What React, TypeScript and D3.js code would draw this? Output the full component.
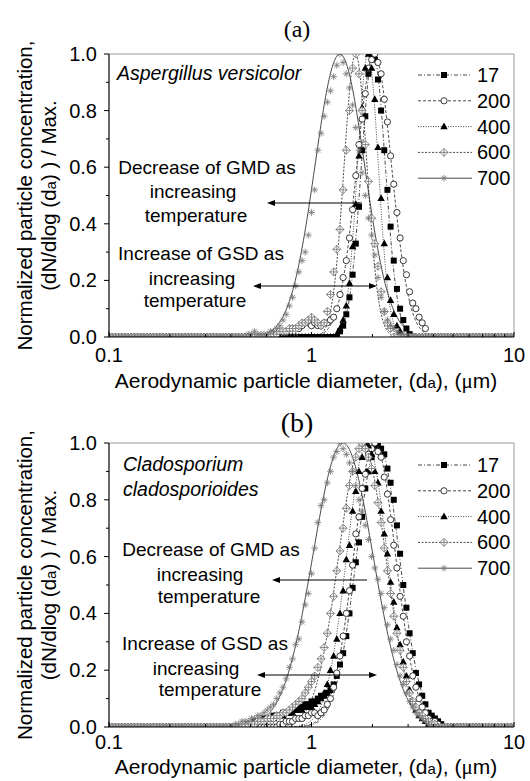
import React from "react";
import * as d3 from "d3";

// Channel mid-point mantissas (64 per decade), 1..10 µm
const MANTISSA = [1.0, 1.0366, 1.0746, 1.114, 1.1548, 1.1971, 1.2409, 1.2864, 1.3335, 1.3824, 1.433, 1.4855, 1.5399, 1.5963, 1.6548, 1.7154, 1.7783, 1.8434, 1.911, 1.981, 2.0535, 2.1288, 2.2067, 2.2876, 2.3714, 2.4582, 2.5483, 2.6416, 2.7384, 2.8387, 2.9427, 3.0505, 3.1623, 3.2781, 3.3982, 3.5227, 3.6517, 3.7855, 3.9242, 4.0679, 4.217, 4.3714, 4.5316, 4.6976, 4.8697, 5.0481, 5.233, 5.4247, 5.6234, 5.8294, 6.043, 6.2644, 6.4938, 6.7317, 6.9783, 7.2339, 7.4989, 7.7737, 8.0584, 8.3536, 8.6596, 8.9769, 9.3057, 9.6466];
const BINS = [...MANTISSA.map((m) => m / 10), ...MANTISSA, 10]; // index i <-> channel k = i - 64

const SERIES_NAMES = ["17", "200", "400", "600", "700"];
const Y_TICKS = [0, 0.2, 0.4, 0.6, 0.8, 1.0];
const X_TICKS = [0.1, 1, 10];

// ---- Panel (a): Aspergillus versicolor ----
const A_START = [9, -4, 8, -12, -20];
const A17 = [0.02, 0.04, 0.08, 0.14, 0.22, 0.33, 0.46, 0.66, 0.78, 0.93, 1.0, 0.98, 0.91, 0.8, 0.66, 0.52, 0.39, 0.27, 0.17, 0.1, 0.06, 0.03, 0.01];
const A200 = [0.03, 0.04, 0.05, 0.05, 0.04, 0.05, 0.04, 0.04, 0.05, 0.05, 0.06, 0.07, 0.1, 0.15, 0.21, 0.27, 0.35, 0.45, 0.57, 0.68, 0.77, 0.86, 0.95, 0.98, 1.0, 0.97, 0.93, 0.84, 0.76, 0.64, 0.54, 0.44, 0.35, 0.27, 0.22, 0.16, 0.12, 0.1, 0.07, 0.05, 0.03];
const A400 = [0.01, 0.03, 0.06, 0.11, 0.19, 0.32, 0.47, 0.64, 0.81, 0.95, 1.0, 0.95, 0.84, 0.67, 0.49, 0.33, 0.21, 0.13, 0.08, 0.04, 0.02];
const A600 = [0.01, 0.01, 0.02, 0.02, 0.02, 0.03, 0.03, 0.03, 0.04, 0.05, 0.05, 0.06, 0.07, 0.06, 0.05, 0.04, 0.05, 0.09, 0.15, 0.23, 0.31, 0.38, 0.52, 0.66, 0.8, 0.95, 1.0, 0.93, 0.8, 0.68, 0.55, 0.42, 0.33, 0.25, 0.16, 0.09, 0.05, 0.03];
const A700 = [0.01, 0.01, 0.02, 0.01, 0.01, 0.01, 0.01, 0.02, 0.02, 0.03, 0.04, 0.06, 0.08, 0.11, 0.14, 0.18, 0.23, 0.27, 0.3, 0.36, 0.44, 0.52, 0.66, 0.72, 0.78, 0.83, 0.87, 0.92, 0.96, 1.0, 0.97, 0.93, 0.88, 0.82, 0.74, 0.66, 0.58, 0.5, 0.42, 0.36, 0.29, 0.21, 0.14, 0.09, 0.06, 0.04, 0.03, 0.02, 0.01, 0.01];
const A_GMD = [2.02, 2.04, 1.9, 1.65, 1.38];
const A_GSD = [1.146, 1.218, 1.126, 1.139, 1.326];

// ---- Panel (b): Cladosporium cladosporioides ----
const B_START = [-20, -10, -20, -20, -24];
const B17 = [0.01, 0.01, 0.02, 0.02, 0.02, 0.03, 0.03, 0.03, 0.04, 0.04, 0.04, 0.05, 0.05, 0.05, 0.06, 0.06, 0.07, 0.07, 0.08, 0.08, 0.09, 0.09, 0.1, 0.11, 0.11, 0.12, 0.13, 0.15, 0.18, 0.22, 0.26, 0.32, 0.4, 0.49, 0.58, 0.65, 0.74, 0.84, 0.9, 0.95, 0.99, 1.0, 0.98, 0.96, 0.91, 0.86, 0.8, 0.71, 0.61, 0.5, 0.42, 0.33, 0.26, 0.19, 0.15, 0.11, 0.08, 0.05, 0.04, 0.03, 0.02, 0.01];
const B200 = [0.01, 0.01, 0.02, 0.02, 0.02, 0.03, 0.03, 0.03, 0.04, 0.04, 0.05, 0.05, 0.04, 0.05, 0.06, 0.08, 0.1, 0.14, 0.19, 0.25, 0.32, 0.4, 0.48, 0.57, 0.68, 0.74, 0.84, 0.89, 0.96, 0.98, 1.0, 0.97, 0.95, 0.88, 0.82, 0.73, 0.64, 0.56, 0.46, 0.39, 0.3, 0.25, 0.18, 0.14, 0.1, 0.07, 0.05, 0.03, 0.02, 0.02, 0.01];
const B400 = [0.01, 0.01, 0.01, 0.02, 0.02, 0.02, 0.03, 0.03, 0.03, 0.04, 0.04, 0.04, 0.05, 0.05, 0.05, 0.06, 0.06, 0.06, 0.07, 0.07, 0.07, 0.08, 0.09, 0.1, 0.12, 0.15, 0.2, 0.25, 0.31, 0.4, 0.48, 0.59, 0.64, 0.76, 0.83, 0.9, 0.95, 1.0, 0.99, 0.96, 0.9, 0.86, 0.76, 0.68, 0.61, 0.51, 0.44, 0.35, 0.29, 0.23, 0.18, 0.13, 0.09, 0.06, 0.04, 0.03, 0.02, 0.01];
const B600 = [0.01, 0.01, 0.01, 0.02, 0.02, 0.02, 0.03, 0.03, 0.03, 0.04, 0.04, 0.05, 0.05, 0.06, 0.07, 0.08, 0.09, 0.1, 0.12, 0.14, 0.16, 0.18, 0.21, 0.24, 0.28, 0.33, 0.4, 0.46, 0.55, 0.62, 0.7, 0.77, 0.85, 0.9, 0.95, 0.98, 1.0, 0.98, 0.95, 0.91, 0.85, 0.79, 0.72, 0.63, 0.55, 0.47, 0.39, 0.33, 0.27, 0.21, 0.16, 0.12, 0.09, 0.07, 0.05, 0.04, 0.03, 0.02, 0.01, 0.01];
const B700 = [0.01, 0.01, 0.02, 0.02, 0.02, 0.03, 0.03, 0.04, 0.04, 0.05, 0.06, 0.07, 0.08, 0.1, 0.12, 0.14, 0.17, 0.21, 0.24, 0.29, 0.31, 0.37, 0.43, 0.47, 0.54, 0.63, 0.72, 0.78, 0.8, 0.86, 0.9, 0.95, 0.97, 1.0, 0.98, 0.96, 0.93, 0.9, 0.85, 0.8, 0.76, 0.71, 0.66, 0.6, 0.56, 0.52, 0.47, 0.42, 0.36, 0.31, 0.27, 0.22, 0.18, 0.15, 0.12, 0.09, 0.07, 0.05, 0.04, 0.03, 0.02, 0.01];
const B_GMD = [2.13, 2.05, 1.88, 1.78, 1.43];
const B_GSD = [1.274, 1.268, 1.259, 1.305, 1.406];

const X0 = 109;
const X1 = 514;
const FONT = "Arial, 'Liberation Sans', Helvetica, sans-serif";
const DASHES = ["4,2,1,2", "3,2", "1,1.5", "2,1.5", ""];

function seriesPoints(start: number, values: number[]) {
  return BINS.map((d, i) => {
    const idx = i - 64 - start;
    const v = idx >= 0 && idx < values.length ? values[idx] : 0;
    return { d, v };
  });
}

function logNormal(d: number, gmd: number, gsd: number) {
  const z = Math.log(d / gmd) / Math.log(gsd);
  return Math.exp(-0.5 * z * z);
}

function Marker({ type, x, y }: { type: number; x: number; y: number }) {
  if (type === 0) return <rect x={x - 3} y={y - 3} width={6} height={6} fill="#000" />;
  if (type === 1) return <circle cx={x} cy={y} r={3.1} fill="#fff" stroke="#222" strokeWidth={0.9} />;
  if (type === 2) return <path d={`M${x},${y - 4}L${x + 3.7},${y + 2.7}L${x - 3.7},${y + 2.7}Z`} fill="#000" />;
  if (type === 3)
    return (
      <g stroke="#707070" strokeWidth={0.8} fill="#fff">
        <path d={`M${x},${y - 4}L${x + 4},${y}L${x},${y + 4}L${x - 4},${y}Z`} />
        <path d={`M${x - 4},${y}H${x + 4}M${x},${y - 4}V${y + 4}`} fill="none" />
      </g>
    );
  const r = 3.4;
  const a = r * 0.707;
  return (
    <path
      d={`M${x - r},${y}H${x + r}M${x},${y - r}V${y + r}M${x - a},${y - a}L${x + a},${y + a}M${x - a},${y + a}L${x + a},${y - a}`}
      stroke="#777"
      strokeWidth={0.8}
      fill="none"
    />
  );
}

type TextLine = { t: string; x: number; y: number };
type PanelCfg = {
  id: string;
  title: string;
  titleY: number;
  titleSize: number;
  top: number;
  bottom: number;
  tickDy: number;
  labelDy: number;
  species: TextLine[];
  legendY: number;
  ann1: TextLine[];
  arrow1: { y: number; x1: number; x2: number };
  ann2: TextLine[];
  arrow2: { y: number; x1: number; x2: number };
  starts: number[];
  data: number[][];
  gmd: number[];
  gsd: number[];
};

function Panel({ cfg }: { cfg: PanelCfg }) {
  const x = d3.scaleLog().domain([0.1, 10]).range([X0, X1]);
  const y = d3.scaleLinear().domain([0, 1]).range([cfg.bottom, cfg.top]);
  const sample = d3.range(0, 601).map((i) => Math.pow(10, -1 + i / 300));
  const line = d3
    .line<number>()
    .x((d) => x(d))
    .curve(d3.curveLinear);
  const minorX: number[] = [];
  [0.1, 1].forEach((dec) => {
    for (let m = 2; m <= 9; m++) minorX.push(dec * m);
  });
  const minorY = [0.1, 0.3, 0.5, 0.7, 0.9];
  const midY = (cfg.top + cfg.bottom) / 2;
  const clipId = `clip-${cfg.id}`;
  const ann = (l: TextLine, i: number) => (
    <text key={i} x={l.x} y={l.y} textAnchor="middle" fontSize={19} fontFamily={FONT}>
      {l.t}
    </text>
  );
  return (
    <g>
      <defs>
        <clipPath id={clipId}>
          <rect x={X0} y={cfg.top} width={X1 - X0} height={cfg.bottom - cfg.top} />
        </clipPath>
      </defs>
      <text x={297} y={cfg.titleY} textAnchor="middle" fontSize={cfg.titleSize} fontFamily="'Liberation Serif', 'Times New Roman', serif">
        {cfg.title}
      </text>
      {/* frame */}
      <line x1={X0} x2={X1} y1={cfg.top} y2={cfg.top} stroke="#999" strokeWidth={1} />
      <line x1={X1} x2={X1} y1={cfg.top} y2={cfg.bottom} stroke="#999" strokeWidth={1} />
      {/* fitted curves */}
      <g clipPath={`url(#${clipId})`}>
        {SERIES_NAMES.map((s, i) => (
          <path
            key={s}
            d={line.y((d) => y(logNormal(d, cfg.gmd[i], cfg.gsd[i])))(sample) || ""}
            fill="none"
            stroke="#333"
            strokeWidth={0.9}
            strokeDasharray={DASHES[i] || undefined}
          />
        ))}
        {SERIES_NAMES.map((s, i) => (
          <g key={s}>
            {seriesPoints(cfg.starts[i], cfg.data[i]).map((p, j) => (
              <Marker key={j} type={i} x={x(p.d)} y={y(p.v)} />
            ))}
          </g>
        ))}
      </g>
      {/* axes */}
      <line x1={X0} x2={X0} y1={cfg.top} y2={cfg.bottom} stroke="#000" strokeWidth={1.2} />
      <line x1={X0} x2={X1} y1={cfg.bottom} y2={cfg.bottom} stroke="#000" strokeWidth={1.2} />
      {Y_TICKS.map((t) => (
        <g key={t}>
          <line x1={X0 - 5} x2={X0} y1={y(t)} y2={y(t)} stroke="#000" strokeWidth={1} />
          <text x={X0 - 12} y={y(t) + 7} textAnchor="end" fontSize={20} fontFamily={FONT}>
            {t.toFixed(1)}
          </text>
        </g>
      ))}
      {minorY.map((t) => (
        <line key={t} x1={X0 - 3} x2={X0} y1={y(t)} y2={y(t)} stroke="#000" strokeWidth={1} />
      ))}
      {X_TICKS.map((t) => (
        <g key={t}>
          <line x1={x(t)} x2={x(t)} y1={cfg.bottom} y2={cfg.bottom - 5} stroke="#000" strokeWidth={1} />
          <text x={x(t)} y={cfg.bottom + cfg.tickDy} textAnchor="middle" fontSize={20} fontFamily={FONT}>
            {t}
          </text>
        </g>
      ))}
      {minorX.map((t) => (
        <line key={t} x1={x(t)} x2={x(t)} y1={cfg.bottom} y2={cfg.bottom - 3} stroke="#000" strokeWidth={1} />
      ))}
      <text x={306} y={cfg.bottom + cfg.labelDy} textAnchor="middle" fontSize={21} fontFamily={FONT}>
        Aerodynamic particle diameter, (d
        <tspan fontSize={15}>a</tspan>
        ), (<tspan fontFamily="'Liberation Serif', serif">μ</tspan>m)
      </text>
      {/* y label */}
      <text transform={`translate(32,${midY}) rotate(-90)`} textAnchor="middle" fontSize={20.5} fontFamily={FONT}>
        Normalized particle concentration,
      </text>
      <text transform={`translate(56,${midY}) rotate(-90)`} textAnchor="middle" fontSize={20.5} fontFamily={FONT}>
        (dN/dlog (d<tspan fontSize={15}>a</tspan>) ) / Max.
      </text>
      {/* species */}
      {cfg.species.map((l, i) => (
        <text key={i} x={l.x} y={l.y} fontSize={19.5} fontStyle="italic" fontFamily={FONT}>
          {l.t}
        </text>
      ))}
      {/* annotations */}
      {cfg.ann1.map(ann)}
      {cfg.ann2.map(ann)}
      <line x1={cfg.arrow1.x1} x2={cfg.arrow1.x2 + 6} y1={cfg.arrow1.y} y2={cfg.arrow1.y} stroke="#000" strokeWidth={1} />
      <path d={`M${cfg.arrow1.x2},${cfg.arrow1.y}l8,-3v6Z`} fill="#000" />
      <line x1={cfg.arrow2.x1 + 6} x2={cfg.arrow2.x2 - 6} y1={cfg.arrow2.y} y2={cfg.arrow2.y} stroke="#000" strokeWidth={1} />
      <path d={`M${cfg.arrow2.x1},${cfg.arrow2.y}l8,-3v6Z`} fill="#000" />
      <path d={`M${cfg.arrow2.x2},${cfg.arrow2.y}l-8,-3v6Z`} fill="#000" />
      {/* legend */}
      {SERIES_NAMES.map((s, i) => {
        const ly = cfg.legendY + i * 25.8;
        return (
          <g key={s}>
            <line x1={418} x2={472} y1={ly} y2={ly} stroke="#333" strokeWidth={0.9} strokeDasharray={DASHES[i] || undefined} />
            <Marker type={i} x={444} y={ly} />
            <text x={477} y={ly + 7} fontSize={20} fontFamily={FONT}>
              {s}
            </text>
          </g>
        );
      })}
    </g>
  );
}

const PANEL_A: PanelCfg = {
  id: "a",
  title: "(a)",
  titleY: 37,
  titleSize: 24,
  top: 54,
  bottom: 337,
  tickDy: 25,
  labelDy: 51,
  species: [{ t: "Aspergillus versicolor", x: 117, y: 80 }],
  legendY: 75,
  ann1: [
    { t: "Decrease of GMD as", x: 207, y: 174 },
    { t: "increasing", x: 193, y: 198 },
    { t: "temperature", x: 196, y: 222 },
  ],
  arrow1: { y: 203, x1: 362, x2: 267 },
  ann2: [
    { t: "Increase of GSD as", x: 201, y: 260 },
    { t: "increasing", x: 192, y: 285 },
    { t: "temperature", x: 195, y: 307 },
  ],
  arrow2: { y: 286, x1: 253, x2: 377 },
  starts: A_START,
  data: [A17, A200, A400, A600, A700],
  gmd: A_GMD,
  gsd: A_GSD,
};

const PANEL_B: PanelCfg = {
  id: "b",
  title: "(b)",
  titleY: 432,
  titleSize: 28,
  top: 443,
  bottom: 727,
  tickDy: 22,
  labelDy: 47,
  species: [
    { t: "Cladosporium", x: 123, y: 471 },
    { t: "cladosporioides", x: 123, y: 496 },
  ],
  legendY: 465,
  ann1: [
    { t: "Decrease of GMD as", x: 211, y: 556 },
    { t: "increasing", x: 200, y: 581 },
    { t: "temperature", x: 209, y: 603 },
  ],
  arrow1: { y: 580, x1: 367, x2: 272 },
  ann2: [
    { t: "Increase of GSD as", x: 205, y: 650 },
    { t: "increasing", x: 196, y: 675 },
    { t: "temperature", x: 210, y: 696 },
  ],
  arrow2: { y: 675, x1: 257, x2: 377 },
  starts: B_START,
  data: [B17, B200, B400, B600, B700],
  gmd: B_GMD,
  gsd: B_GSD,
};

export default function App() {
  return (
    <svg
      width={530}
      height={781}
      viewBox="0 0 530 781"
      style={{ position: "absolute", left: 0, top: 0, background: "#fff" }}
    >
      <rect x={0} y={0} width={530} height={781} fill="#fff" />
      <Panel cfg={PANEL_A} />
      <Panel cfg={PANEL_B} />
    </svg>
  );
}
